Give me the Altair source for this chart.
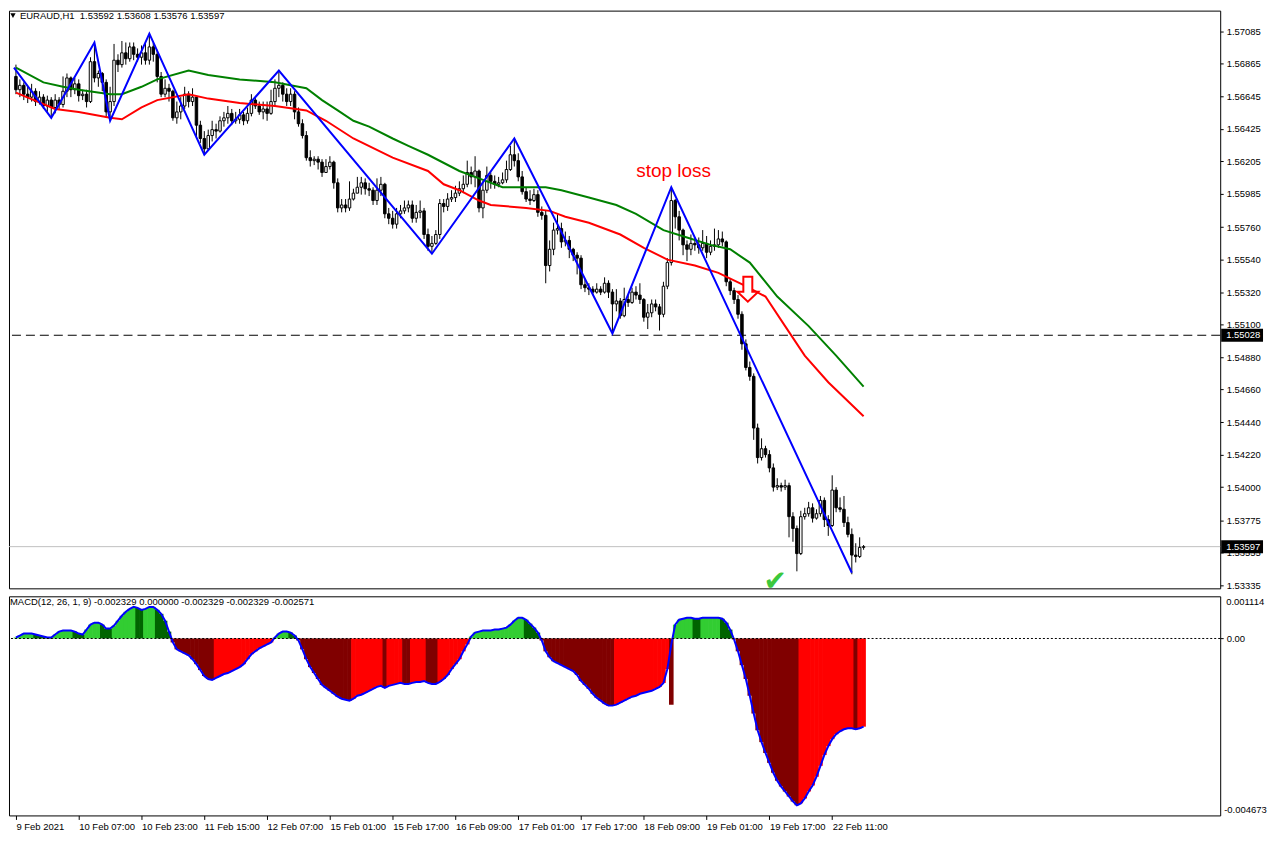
import altair as alt
import pandas as pd

# ---------------- data ----------------
FIRST_OPEN = 1.5678
closes = [1.5669,1.5672,1.5666,1.5664,1.5668,1.5661,1.5664,1.5658,1.5662,1.5657,
          1.5662,1.5659,1.5668,1.5677,1.5669,1.5673,1.5665,1.5666,1.5661,1.5688,
          1.5677,1.5680,1.5674,1.5654,1.5661,1.5689,1.5686,1.5694,1.5690,1.5698,
          1.5693,1.5691,1.5694,1.5689,1.5698,1.5693,1.5678,1.5666,1.5670,1.5668,
          1.5650,1.5654,1.5658,1.5666,1.5661,1.5664,1.5645,1.5636,1.5629,1.5638,
          1.5642,1.5641,1.5648,1.5650,1.5653,1.5648,1.5649,1.5652,1.5648,1.5653,
          1.5662,1.5658,1.5654,1.5656,1.5653,1.5661,1.5670,1.5672,1.5666,1.5661,
          1.5666,1.5654,1.5646,1.5638,1.5623,1.5621,1.5622,1.5620,1.5613,1.5617,
          1.5620,1.5606,1.5589,1.5591,1.5589,1.5595,1.5599,1.5603,1.5606,1.5602,
          1.5601,1.5594,1.5601,1.5605,1.5585,1.5582,1.5578,1.5585,1.5587,1.5589,
          1.5591,1.5582,1.5586,1.5587,1.5571,1.5563,1.5565,1.5571,1.5592,1.5590,
          1.5595,1.5596,1.5599,1.5602,1.5605,1.5613,1.5610,1.5614,1.5589,1.5601,
          1.5611,1.5607,1.5605,1.5606,1.5608,1.5615,1.5625,1.5621,1.5610,1.5600,
          1.5595,1.5594,1.5598,1.5586,1.5584,1.5550,1.5561,1.5574,1.5575,1.5566,
          1.5567,1.5561,1.5557,1.5555,1.5537,1.5535,1.5534,1.5532,1.5534,1.5532,
          1.5538,1.5532,1.5524,1.5526,1.5516,1.5527,1.5525,1.5532,1.5530,1.5527,
          1.5515,1.5518,1.5524,1.5522,1.5517,1.5536,1.5552,1.5594,1.5583,1.5574,
          1.5564,1.5561,1.5565,1.5564,1.5562,1.5565,1.5559,1.5563,1.5564,1.5568,
          1.5566,1.5539,1.5533,1.5527,1.5517,1.5497,1.5481,1.5475,1.5440,1.5420,
          1.5426,1.5422,1.5413,1.5400,1.5401,1.5400,1.5401,1.5380,1.5372,1.5355,
          1.5380,1.5382,1.5386,1.5379,1.5382,1.5391,1.5378,1.5374,1.5398,1.5386,
          1.5385,1.5376,1.5368,1.5354,1.5353,1.53592,1.53597]
highs = [1.5686,1.5676,1.5674,1.5671,1.5673,1.5670,1.5668,1.5666,1.5665,1.5664,
         1.5666,1.5664,1.5678,1.5680,1.5678,1.5677,1.5676,1.5669,1.5669,1.5691,
         1.5701,1.5682,1.5681,1.5676,1.5671,1.5700,1.5693,1.5702,1.5701,1.5701,
         1.5701,1.5697,1.5699,1.5701,1.5707,1.5701,1.5696,1.5681,1.5676,1.5673,
         1.5669,1.5661,1.5664,1.5671,1.5668,1.5670,1.5664,1.5648,1.5641,1.5642,
         1.5648,1.5646,1.5651,1.5654,1.5658,1.5656,1.5654,1.5656,1.5654,1.5657,
         1.5666,1.5664,1.5661,1.5661,1.5661,1.5669,1.5676,1.5682,1.5674,1.5670,
         1.5670,1.5668,1.5657,1.5649,1.5641,1.5628,1.5624,1.5624,1.5622,1.5622,
         1.5624,1.5621,1.5609,1.5595,1.5595,1.5607,1.5602,1.5610,1.5610,1.5609,
         1.5606,1.5603,1.5609,1.5610,1.5606,1.5589,1.5587,1.5589,1.5591,1.5594,
         1.5594,1.5594,1.5591,1.5594,1.5589,1.5575,1.5570,1.5574,1.5595,1.5595,
         1.5599,1.5601,1.5604,1.5607,1.5611,1.5621,1.5617,1.5624,1.5615,1.5607,
         1.5617,1.5613,1.5611,1.5610,1.5613,1.5621,1.5631,1.5636,1.5626,1.5614,
         1.5603,1.5601,1.5602,1.5601,1.5590,1.5587,1.5567,1.5579,1.5585,1.5579,
         1.5573,1.5570,1.5562,1.5559,1.5557,1.5541,1.5538,1.5536,1.5538,1.5536,
         1.5542,1.5540,1.5534,1.5534,1.5528,1.5535,1.5530,1.5535,1.5536,1.5538,
         1.5528,1.5524,1.5527,1.5527,1.5524,1.5539,1.5555,1.5603,1.5595,1.5587,
         1.5575,1.5567,1.5571,1.5569,1.5569,1.5574,1.5570,1.5567,1.5575,1.5574,
         1.5573,1.5567,1.5541,1.5535,1.5530,1.5519,1.5500,1.5485,1.5477,1.5443,
         1.5433,1.5428,1.5425,1.5416,1.5406,1.5403,1.5405,1.5403,1.5383,1.5374,
         1.5384,1.5386,1.5390,1.5389,1.5385,1.5394,1.5393,1.5381,1.5408,1.5400,
         1.5393,1.5394,1.5380,1.5372,1.5362,1.5366,1.53608]
lows = [1.5666,1.5664,1.5662,1.5660,1.5661,1.5658,1.5659,1.5656,1.5654,1.5650,
        1.5653,1.5656,1.5657,1.5664,1.5664,1.5666,1.5661,1.5662,1.5657,1.5660,
        1.5674,1.5671,1.5668,1.5650,1.5648,1.5658,1.5681,1.5684,1.5686,1.5688,
        1.5689,1.5688,1.5686,1.5686,1.5686,1.5688,1.5674,1.5664,1.5664,1.5661,
        1.5648,1.5646,1.5649,1.5656,1.5657,1.5658,1.5636,1.5633,1.5625,1.5628,
        1.5634,1.5636,1.5640,1.5644,1.5646,1.5645,1.5646,1.5646,1.5645,1.5646,
        1.5651,1.5656,1.5652,1.5649,1.5648,1.5652,1.5658,1.5664,1.5661,1.5658,
        1.5658,1.5649,1.5644,1.5636,1.5621,1.5617,1.5618,1.5615,1.5610,1.5613,
        1.5615,1.5602,1.5586,1.5586,1.5586,1.5587,1.5594,1.5599,1.5598,1.5598,
        1.5597,1.5591,1.5591,1.5597,1.5582,1.5578,1.5575,1.5575,1.5582,1.5585,
        1.5586,1.5579,1.5579,1.5582,1.5568,1.5560,1.5558,1.5564,1.5568,1.5586,
        1.5587,1.5593,1.5593,1.5597,1.5599,1.5603,1.5605,1.5603,1.5586,1.5582,
        1.5599,1.5602,1.5602,1.5603,1.5605,1.5606,1.5614,1.5617,1.5607,1.5598,
        1.5593,1.5591,1.5593,1.5583,1.5581,1.5538,1.5546,1.5557,1.5571,1.5562,
        1.5563,1.5555,1.5553,1.5544,1.5534,1.5532,1.5530,1.5530,1.5531,1.5530,
        1.5531,1.5528,1.5504,1.5519,1.5514,1.5515,1.5522,1.5524,1.5527,1.5524,
        1.5512,1.5507,1.5515,1.5519,1.5506,1.5515,1.5534,1.5550,1.5575,1.5567,
        1.5557,1.5553,1.5557,1.5560,1.5558,1.5560,1.5555,1.5557,1.5560,1.5562,
        1.5563,1.5536,1.5530,1.5524,1.5514,1.5493,1.5479,1.5472,1.5432,1.5416,
        1.5418,1.5420,1.5410,1.5397,1.5398,1.5397,1.5398,1.5366,1.5363,1.5343,
        1.5354,1.5378,1.5380,1.5376,1.5378,1.5380,1.5373,1.5367,1.5373,1.5383,
        1.5383,1.5373,1.5366,1.5341,1.5349,1.5352,1.53576]

ma_red_bars = [0,10,16,24,27,32,36,44,49,57,66,74,79,86,96,105,109,113,118,121,
               130,136,140,146,154,160,166,173,179,186,191,196,201,207,216]
ma_red_vals = [1.5667,1.5656,1.5654,1.5650,1.5649,1.5657,1.5662,1.5666,1.5663,1.5660,
               1.5658,1.5655,1.5648,1.5636,1.5623,1.5614,1.5605,1.5601,1.5594,1.5591,
               1.5589,1.5587,1.5583,1.5579,1.5571,1.5562,1.5554,1.5550,1.5545,1.5536,
               1.5529,1.5509,1.5489,1.5471,1.5448]
ma_green_bars = [0,7,12,16,24,27,32,36,44,49,57,66,72,74,78,82,86,90,96,100,105,
                 113,118,124,135,139,146,153,158,165,171,177,182,187,194,202,209,216]
ma_green_vals = [1.5684,1.5674,1.5671,1.5669,1.5666,1.5666,1.5671,1.5676,1.5682,1.5679,
                 1.5676,1.5674,1.5671,1.5670,1.5662,1.5655,1.5648,1.5644,1.5636,1.5631,
                 1.5625,1.5614,1.5609,1.5603,1.5603,1.5601,1.5596,1.5591,1.5585,1.5574,
                 1.5569,1.5564,1.5561,1.5552,1.5529,1.5509,1.5489,1.5468]

zz_bars = [-0.5, 9, 20, 24, 34, 48, 67, 106, 127, 152, 167, 213]
zz_vals = [1.5684, 1.5650, 1.5701, 1.5648, 1.5707, 1.5625, 1.5682, 1.5558,
           1.5636, 1.5504, 1.5603, 1.5342]

price_ticks = [1.57085, 1.56865, 1.56645, 1.56425, 1.56205, 1.55985, 1.55760,
               1.55540, 1.55320, 1.55100, 1.54880, 1.54660, 1.54440, 1.54220,
               1.54000, 1.53775, 1.53555, 1.53335]
level_price = 1.55028
bid_price = 1.53597

macd = [0.000026,0.000078,0.000130,0.000130,0.000130,0.000104,0.000078,0.000052,0.000026,0.000026,
        0.000104,0.000182,0.000209,0.000209,0.000209,0.000182,0.000130,0.000104,0.000235,0.000365,
        0.000417,0.000417,0.000365,0.000261,0.000261,0.000339,0.000469,0.000600,0.000704,0.000782,
        0.000834,0.000808,0.000756,0.000782,0.000834,0.000834,0.000756,0.000652,0.000469,0.000182,
        -0.000104,-0.000287,-0.000339,-0.000391,-0.000443,-0.000547,-0.000678,-0.000834,-0.000991,-0.001069,
        -0.001095,-0.001043,-0.000991,-0.000939,-0.000912,-0.000860,-0.000808,-0.000756,-0.000678,-0.000547,
        -0.000417,-0.000339,-0.000261,-0.000209,-0.000156,-0.000104,0.000026,0.000130,0.000182,0.000182,
        0.000156,0.000078,-0.000052,-0.000287,-0.000547,-0.000756,-0.000912,-0.001069,-0.001225,-0.001304,
        -0.001382,-0.001460,-0.001538,-0.001590,-0.001616,-0.001642,-0.001590,-0.001512,-0.001486,-0.001434,
        -0.001382,-0.001330,-0.001277,-0.001251,-0.001304,-0.001251,-0.001225,-0.001199,-0.001173,-0.001199,
        -0.001199,-0.001173,-0.001147,-0.001147,-0.001121,-0.001173,-0.001199,-0.001199,-0.001147,-0.001069,
        -0.000965,-0.000808,-0.000678,-0.000547,-0.000339,-0.000156,0.000052,0.000156,0.000182,0.000209,
        0.000209,0.000209,0.000235,0.000235,0.000261,0.000287,0.000365,0.000469,0.000547,0.000547,
        0.000495,0.000391,0.000287,0.000156,-0.000052,-0.000339,-0.000495,-0.000600,-0.000652,-0.000704,
        -0.000756,-0.000808,-0.000860,-0.000965,-0.001121,-0.001225,-0.001330,-0.001460,-0.001564,-0.001642,
        -0.001721,-0.001773,-0.001773,-0.001747,-0.001695,-0.001642,-0.001590,-0.001538,-0.001512,-0.001460,
        -0.001434,-0.001408,-0.001382,-0.001330,-0.001277,-0.001173,-0.000808,-0.000156,0.000365,0.000495,
        0.000521,0.000547,0.000547,0.000521,0.000521,0.000547,0.000547,0.000547,0.000547,0.000547,
        0.000521,0.000417,0.000235,-0.000026,-0.000339,-0.000704,-0.001069,-0.001512,-0.001981,-0.002425,
        -0.002737,-0.003024,-0.003285,-0.003546,-0.003754,-0.003911,-0.004041,-0.004171,-0.004302,-0.004406,
        -0.004354,-0.004223,-0.004041,-0.003884,-0.003650,-0.003363,-0.003076,-0.002842,-0.002659,-0.002529,
        -0.002451,-0.002398,-0.002372,-0.002372,-0.002398,-0.002372,-0.002329]
spike_bars = [167]
spike_vals = [-0.00175]

tick_bars = [0, 16, 32, 48, 64, 80, 96, 112, 128, 144, 160, 176, 192, 208]
tick_labels = ["9 Feb 2021", "10 Feb 07:00", "10 Feb 23:00", "11 Feb 15:00",
               "12 Feb 07:00", "15 Feb 01:00", "15 Feb 17:00", "16 Feb 09:00",
               "17 Feb 01:00", "17 Feb 17:00", "18 Feb 09:00", "19 Feb 01:00",
               "19 Feb 17:00", "22 Feb 11:00"]

header_text = "EURAUD,H1\u00a0 1.53592 1.53608 1.53576 1.53597"
macd_text = "MACD(12, 26, 1, 9) -0.002329 0.000000 -0.002329 -0.002329 -0.002571"
macd_top_label = "0.001114"
macd_bottom_label = "-0.004673"
stop_note = {"bar": 167.6, "price": 1.5614, "text": "stop loss"}
arrow_pt = {"bar": 186.5, "price": 1.5534}
check_pt = {"bar": 193.5, "price": 1.5336}

# ---------------- colours ----------------
C_RED, C_GREEN, C_BLUE = "#FF0000", "#008000", "#0000FF"
HIST_COLORS = {"up+": "#32CD32", "down+": "#006400", "up-": "#FF0000", "down-": "#800000"}

# ---------------- tables ----------------
n = len(closes)
opens = [FIRST_OPEN] + closes[:-1]
candles = pd.DataFrame({"bar": list(range(n)), "open": opens, "high": highs,
                        "low": lows, "close": closes})

ma_df = pd.concat([
    pd.DataFrame({"bar": ma_red_bars, "p": ma_red_vals, "s": "red", "hex": C_RED}),
    pd.DataFrame({"bar": ma_green_bars, "p": ma_green_vals, "s": "green", "hex": C_GREEN}),
])
zz_df = pd.DataFrame({"bar": zz_bars, "p": zz_vals})

hist_vals = list(macd)
cols = []
rising = True
for i, v in enumerate(macd):
    if i > 0 and v != macd[i - 1]:
        rising = v > macd[i - 1]
    if v >= 0:
        cols.append("up+" if rising else "down+")
    else:
        cols.append("up-" if rising else "down-")
for b, v in zip(spike_bars, spike_vals):
    hist_vals[b] = v
    cols[b] = "down-"
hist_df = pd.DataFrame({"bar": list(range(n)), "v": hist_vals, "zero": 0.0,
                        "hex": [HIST_COLORS[c] for c in cols]})
line_df = pd.DataFrame({"bar": list(range(n)), "v": macd})

# ---------------- scales / axes ----------------
FONT = "Liberation Sans"
FS = 9.5
W = 1216
H_MAIN = 580
H_MACD = 220
xs = alt.Scale(domain=[-0.5, 305.6], nice=False, zero=False)
ys = alt.Scale(domain=[1.533148, 1.572256], nice=False, zero=False)
ms = alt.Scale(domain=[-0.004673, 0.001114], nice=False, zero=False)
X = alt.X("bar:Q", scale=xs, axis=None)

price_axis = alt.Axis(orient="right", values=price_ticks, format=".5f", title=None,
                      tickSize=3, tickColor="black", labelPadding=3, domain=False,
                      grid=False, labelFont=FONT, labelFontSize=FS, labelColor="black",
                      labelOverlap=False, labelBound=False, labelFlush=False)


def PY(field):
    return alt.Y(field, scale=ys, axis=price_axis)


label_expr = "[" + ",".join("'" + t + "'" for t in tick_labels) + "][round(datum.value / 16)]"
x_axis = alt.Axis(values=tick_bars, labelExpr=label_expr, orient="bottom", title=None,
                  tickSize=4, tickColor="black", labelAlign="left", labelBaseline="top",
                  labelPadding=2, labelFont=FONT, labelFontSize=FS, labelColor="black",
                  domain=False, grid=False, labelFlush=False, labelOverlap=False,
                  labelBound=False)
macd_axis = alt.Axis(orient="right", values=[0], format=".2f", title=None, tickSize=3,
                     tickColor="black", labelPadding=3, domain=False, grid=False,
                     labelFont=FONT, labelFontSize=FS, labelColor="black")
MX = alt.X("bar:Q", scale=xs, axis=x_axis)


def MY(field):
    return alt.Y(field, scale=ms, axis=macd_axis)


# ---------------- main panel ----------------
level = alt.Chart(pd.DataFrame({"p": [level_price]})).mark_rule(
    color="black", strokeDash=[9, 5], strokeWidth=1
).encode(y=PY("p:Q"))

bidline = alt.Chart(pd.DataFrame({"p": [bid_price]})).mark_rule(
    color="#C0C0C0", strokeWidth=1
).encode(y=PY("p:Q"))

wick = alt.Chart(candles).mark_rule(color="black", strokeWidth=1).encode(
    x=X, y=PY("low:Q"), y2="high:Q")

body = alt.Chart(candles).mark_bar(size=2.5, stroke="black", strokeWidth=1).encode(
    x=X, y=PY("open:Q"), y2="close:Q",
    fill=alt.condition("datum.close >= datum.open", alt.value("white"), alt.value("black")))

mas = alt.Chart(ma_df).mark_line(strokeWidth=2).encode(
    x=X, y=PY("p:Q"), color=alt.Color("hex:N", scale=None), detail="s:N",
    order="bar:Q")

zig = alt.Chart(zz_df).mark_line(color=C_BLUE, strokeWidth=2).encode(
    x=X, y=PY("p:Q"), order="bar:Q")

tag_df = pd.DataFrame({"p": [level_price, bid_price],
                       "t": [f"{level_price:.5f}", f"{bid_price:.5f}"]})
tag_box = alt.Chart(tag_df).mark_point(
    shape="M-1,-0.31L1,-0.31L1,0.31L-1,0.31Z", size=42 * 42, filled=True,
    color="black", opacity=1
).encode(x=alt.value(W + 22), y=PY("p:Q"))
tag_txt = alt.Chart(tag_df).mark_text(
    color="white", align="left", baseline="middle", font=FONT, fontSize=FS
).encode(x=alt.value(W + 6), y=PY("p:Q"), text="t:N")

stop = alt.Chart(pd.DataFrame([stop_note])).mark_text(
    color=C_RED, font=FONT, fontSize=19, baseline="middle", align="center"
).encode(x=X, y=PY("price:Q"), text="text:N")

arrow = alt.Chart(pd.DataFrame([arrow_pt])).mark_point(
    shape="M-0.36,-1L0.36,-1L0.36,0.2L0.84,0.2L0,1L-0.84,0.2L-0.36,0.2Z",
    size=625, filled=True, fill="white", stroke=C_RED, strokeWidth=2, opacity=1
).encode(x=X, y=PY("price:Q"))

check = alt.Chart(pd.DataFrame([check_pt])).mark_text(
    text="\u2714", color="#3CC83C", font="DejaVu Sans", fontSize=28,
    baseline="middle", align="center", clip=True
).encode(x=X, y=PY("price:Q"))

tri = alt.Chart(pd.DataFrame({"a": [0]})).mark_point(
    shape="triangle-down", size=28, filled=True, color="black", opacity=1
).encode(x=alt.value(4), y=alt.value(5))
head = alt.Chart(pd.DataFrame({"t": [header_text]})).mark_text(
    align="left", baseline="middle", font=FONT, fontSize=FS, color="black"
).encode(x=alt.value(11), y=alt.value(5), text="t:N")

main = alt.layer(level, bidline, wick, body, mas, zig, tag_box, tag_txt, stop,
                 arrow, check, tri, head).properties(width=W, height=H_MAIN)

# ---------------- MACD panel ----------------
hist = alt.Chart(hist_df).mark_bar(size=4.6).encode(
    x=MX, y=MY("v:Q"), y2="zero:Q", color=alt.Color("hex:N", scale=None))

mline = alt.Chart(line_df).mark_line(color=C_BLUE, strokeWidth=2).encode(
    x=MX, y=MY("v:Q"))

zline = alt.Chart(pd.DataFrame({"v": [0.0]})).mark_rule(
    color="black", strokeDash=[2, 2], strokeWidth=1
).encode(y=MY("v:Q"))

mhead = alt.Chart(pd.DataFrame({"t": [macd_text]})).mark_text(
    align="left", baseline="middle", font=FONT, fontSize=FS, color="black"
).encode(x=alt.value(1), y=alt.value(6), text="t:N")
mtop = alt.Chart(pd.DataFrame({"t": [macd_top_label]})).mark_text(
    align="left", baseline="middle", font=FONT, fontSize=FS, color="black"
).encode(x=alt.value(W + 6), y=alt.value(6), text="t:N")
mbot = alt.Chart(pd.DataFrame({"t": [macd_bottom_label]})).mark_text(
    align="left", baseline="middle", font=FONT, fontSize=FS, color="black"
).encode(x=alt.value(W + 4), y=alt.value(H_MACD - 5), text="t:N")

macd_panel = alt.layer(hist, mline, zline, mhead, mtop, mbot).properties(
    width=W, height=H_MACD)

chart = alt.vconcat(main, macd_panel, spacing=4).properties(
    background="white",
    padding=0,
).configure_view(stroke="black", strokeWidth=1)

chart.save("out.html", embed_options={"renderer": "svg", "actions": False})
